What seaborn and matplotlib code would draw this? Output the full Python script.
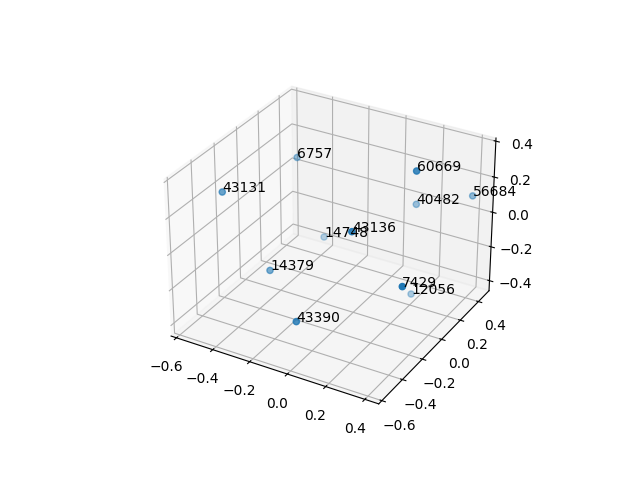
import matplotlib
matplotlib.use("Agg")
import matplotlib.pyplot as plt
import pandas as pd
import seaborn as sns

# valeurs
labels = ["43390", "7429", "60669", "43136", "14379", "43131", "6757", "14748", "40482", "56684", "12056"]
xs = [-0.025, 0.41, 0.28, 0.125, -0.28, -0.53, -0.365, -0.22, 0.164, 0.404, 0.224]
ys = [-0.50, -0.30, 0.08, -0.25, -0.30, -0.30, 0.11, 0.11, 0.32, 0.43, 0.165]
zs = [-0.244, -0.014, 0.387, 0.172, -0.145, 0.22, 0.266, -0.146, 0.053, 0.118, -0.368]

df = pd.DataFrame({"label": labels, "x": xs, "y": ys, "z": zs})

sns.reset_orig()
color = sns.color_palette("tab10")[0]

fig = plt.figure(figsize=(6.4, 4.8), dpi=100)
ax = fig.add_subplot(111, projection="3d")
ax.scatter(df["x"], df["y"], df["z"], color=color)

for _, row in df.iterrows():
    ax.text(row["x"], row["y"], row["z"], row["label"])

ax.set_xlim(-0.63, 0.47)
ax.set_ylim(-0.63, 0.52)
ax.set_zlim(-0.46, 0.417)

fig.savefig("out.png", dpi=100)
